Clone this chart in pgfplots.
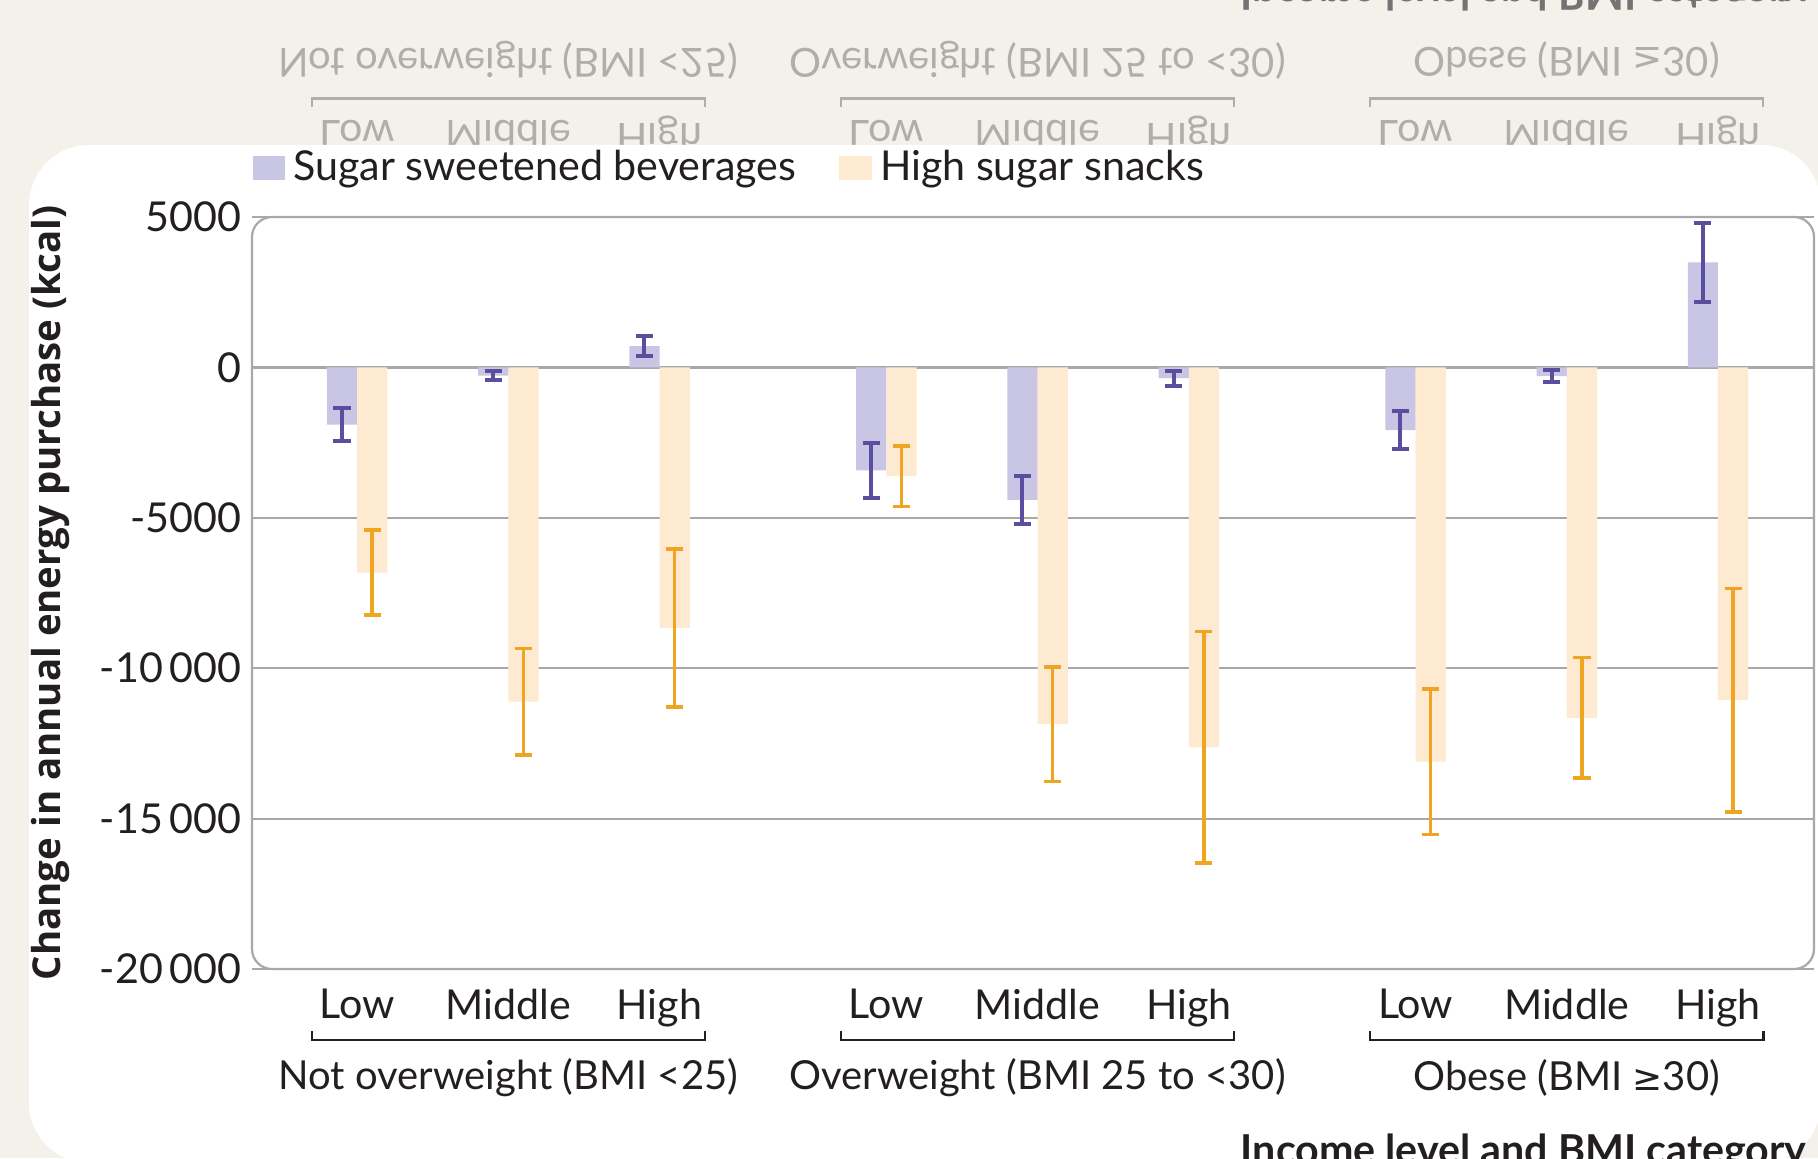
\documentclass[border=0pt]{standalone}
\usepackage{fontspec}
\setmainfont{Lato}
\newfontfamily\osans{Open Sans}
\newfontfamily\dvs{DejaVu Sans}
\usepackage{graphicx}
\usepackage{pgfplots}
\usepackage{pgfplotstable}
\pgfplotsset{compat=1.18}
\definecolor{bg}{HTML}{F3F1EA}
\definecolor{ssbFill}{HTML}{C9C6E5}
\definecolor{ssbErr}{HTML}{5B4E9F}
\definecolor{snFill}{HTML}{FDEAD0}
\definecolor{snErr}{HTML}{F0A522}
\definecolor{gridgray}{HTML}{A8A8A8}
\definecolor{txt}{HTML}{231F20}
\definecolor{ghost}{HTML}{B0AEA8}

\pgfplotstableread{
x    y      e
0    -1900  550
1    -275   160
2    710    325
3.5  -3425  900
4.5  -4400  800
5.5  -360   245
7    -2085  620
8    -290   200
9    3490   1320
}\ssb

\pgfplotstableread{
x    y       e
0    -6820   1420
1    -11110  1770
2    -8660   2630
3.5  -3615   1010
4.5  -11860  1905
5.5  -12630  3855
7    -13105  2420
8    -11650  2000
9    -11065  3720
}\snacks

\newcommand{\fs}{\fontsize{10.3pt}{12pt}\selectfont}
\newcommand{\fg}{\fontsize{10pt}{12pt}\selectfont}
\newcommand{\gesym}{{\dvs\fontsize{9pt}{12pt}\selectfont ≥}}
\tikzset{bracket/.style={txt, line width=0.6pt}}

\begin{document}
\begin{tikzpicture}[font=\fs, text=txt]
\path[use as bounding box] (0,0) rectangle (454.5pt,289.5pt);
\fill[bg] (0,0) rectangle (454.5pt,289.5pt);
% mirrored ghost of the bottom labels
\begin{scope}
\foreach \xx/\lab in {89.27/Low,127.07/Middle,164.87/High,221.57/Low,259.37/Middle,297.17/High,353.87/Low,391.67/Middle,429.47/High}
  \node[text=ghost] at (\xx pt,255.65pt) {\scalebox{1}[-1]{\lab}};
\draw[ghost, line width=0.6pt] (77.93pt,262.65pt) -- (77.93pt,264.9pt) -- (176.2pt,264.9pt) -- (176.2pt,262.65pt);
\draw[ghost, line width=0.6pt] (210.2pt,262.65pt) -- (210.2pt,264.9pt) -- (308.5pt,264.9pt) -- (308.5pt,262.65pt);
\draw[ghost, line width=0.6pt] (342.5pt,262.65pt) -- (342.5pt,264.9pt) -- (440.8pt,264.9pt) -- (440.8pt,262.65pt);
\node[text=ghost, font=\fg] at (127.07pt,274.4pt) {\scalebox{1}[-1]{Not overweight (BMI <25)}};
\node[text=ghost, font=\fg] at (259.37pt,274.4pt) {\scalebox{1}[-1]{Overweight (BMI 25 to <30)}};
\node[text=ghost, font=\fg] at (391.67pt,274.4pt) {\scalebox{1}[-1]{Obese (BMI \gesym30)}};
\node[text=black!55, anchor=base west, inner sep=0pt] at (310pt,294.3pt) {\scalebox{1}[-1]{\bfseries Income level and BMI category}};
\end{scope}
% white panel
\fill[white, rounded corners=15pt] (7.25pt,-1.25pt) rectangle (455.25pt,253.25pt);

\begin{axis}[
  at={(63pt,47.25pt)}, anchor=south west,
  scale only axis, width=390.5pt, height=188pt,
  xmin=-0.695, xmax=9.635, ymin=-20000, ymax=5000,
  axis line style={draw=none},
  ymajorgrids, grid style={color=gridgray, line width=0.55pt},
  major tick length=0pt,
  scaled y ticks=false,
  ytick={-20000,-15000,-10000,-5000,0,5000},
  yticklabels={-20\,000,-15\,000,-10\,000,-5000,0,5000},
  xtick={0,1,2,3.5,4.5,5.5,7,8,9},
  xticklabels={Low,Middle,High,Low,Middle,High,Low,Middle,High},
  tick label style={font=\fs, text=txt},
  xticklabel style={yshift=-1.4pt},
  yticklabel style={xshift=0.9pt},
  ylabel={Change in annual energy purchase (kcal)},
  ylabel style={font=\osans\bfseries\fontsize{9.6pt}{11pt}\selectfont, text=txt,
    at={([xshift=-50.25pt]rel axis cs:0,0.5)}, anchor=center},
  clip=false,
  legend columns=2,
  legend style={at={(0,1.065)}, anchor=west, draw=none, fill=none,
    inner sep=0pt, font=\fs, text=txt,
    /tikz/every even column/.append style={column sep=8.75pt}},
]
\addlegendimage{legend image code/.code={\fill[ssbFill] (0pt,-2.75pt) rectangle (7.75pt,2.75pt);}}
\addlegendentry{Sugar sweetened beverages}
\addlegendimage{legend image code/.code={\fill[snFill] (0pt,-2.75pt) rectangle (7.75pt,2.75pt);}}
\addlegendentry{High sugar snacks}

\addplot[ybar, bar width=0.2, bar shift=0, fill=ssbFill, draw=none, forget plot,
  error bars/.cd, y dir=both, y explicit,
  error bar style={color=ssbErr, line width=1pt},
  error mark options={rotate=90, mark size=2.15pt, color=ssbErr, line width=1pt}]
  table[x expr=\thisrow{x}-0.1, y=y, y error=e] {\ssb};
\addplot[ybar, bar width=0.2, bar shift=0, fill=snFill, draw=none, forget plot,
  error bars/.cd, y dir=both, y explicit,
  error bar style={color=snErr, line width=0.9pt},
  error mark options={rotate=90, mark size=2.15pt, color=snErr, line width=0.9pt}]
  table[x expr=\thisrow{x}+0.1, y=y, y error=e] {\snacks};

% brackets and group labels
\draw[bracket] ([yshift=-15.5pt]axis cs:-0.3,-20000) -- ([yshift=-17.75pt]axis cs:-0.3,-20000)
     -- ([yshift=-17.75pt]axis cs:2.3,-20000) -- ([yshift=-15.5pt]axis cs:2.3,-20000);
\draw[bracket] ([yshift=-15.5pt]axis cs:3.2,-20000) -- ([yshift=-17.75pt]axis cs:3.2,-20000)
     -- ([yshift=-17.75pt]axis cs:5.8,-20000) -- ([yshift=-15.5pt]axis cs:5.8,-20000);
\draw[bracket] ([yshift=-15.5pt]axis cs:6.7,-20000) -- ([yshift=-17.75pt]axis cs:6.7,-20000)
     -- ([yshift=-17.75pt]axis cs:9.3,-20000) -- ([yshift=-15.5pt]axis cs:9.3,-20000);
\node[text=txt, font=\fg] at ([yshift=-27.25pt]axis cs:1,-20000) {Not overweight (BMI <25)};
\node[text=txt, font=\fg] at ([yshift=-27.25pt]axis cs:4.5,-20000) {Overweight (BMI 25 to <30)};
\node[text=txt, font=\fg] at ([yshift=-27.25pt]axis cs:8,-20000) {Obese (BMI \gesym30)};
\draw[gridgray, line width=0.55pt, rounded corners=5pt] (rel axis cs:0,0) rectangle (rel axis cs:1,1);
\end{axis}
\node[text=txt, anchor=base west, inner sep=0pt, font=\fs\bfseries] at (310pt,-1.6pt) {Income level and BMI category};
\end{tikzpicture}
\end{document}
